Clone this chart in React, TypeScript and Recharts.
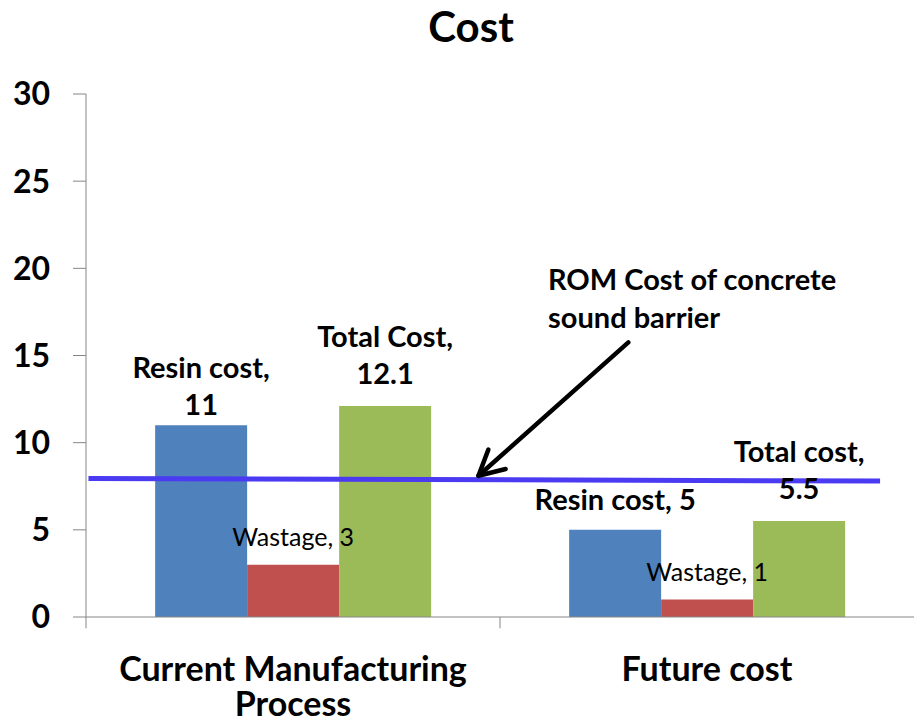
import React from 'react'
import {
  ComposedChart,
  Bar,
  XAxis,
  YAxis,
  ReferenceLine,
  ReferenceDot,
  LabelList,
} from 'recharts'

const categories = ['Current Manufacturing Process', 'Future cost']
const resinCost = [11, 5]
const wastage = [3, 1]
const totalCost = [12.1, 5.5]
const resinNames = ['Resin cost', 'Resin cost']
const wastageNames = ['Wastage', 'Wastage']
const totalNames = ['Total Cost', 'Total cost']
const yTicks = [0, 5, 10, 15, 20, 25, 30]

// ROM cost of a concrete sound barrier, drawn as a slightly tilted line
const romLine = [
  { x: 0.003, y: 7.95 },
  { x: 0.959, y: 7.8 },
]
const romArrow = [
  { x: 0.655, y: 15.75 },
  { x: 0.474, y: 8.1 },
]
const romText = ['ROM Cost of concrete', 'sound barrier']
const romTextAt = { x: 0.558, y: 18.75 }
// category boundaries on the 0..1 helper axis (excel puts x ticks between groups)
const boundaries = [0, 0.5]

const FONT = 'Lato, "Liberation Sans", sans-serif'
const AXIS_GREY = '#868686'

const data = categories.map((name, i) => ({
  name,
  resin: resinCost[i],
  wastage: wastage[i],
  total: totalCost[i],
}))

const makeLabel = (names: string[], bold: boolean, lift: number[]) => (p: any) => {
  const { x, y, width, value, index } = p
  const cx = Number(x) + Number(width) / 2
  const base = Number(y) - lift[index]
  const full = `${names[index]}, ${value}`
  const common = {
    textAnchor: 'middle' as const,
    fontFamily: FONT,
    fontWeight: bold ? 700 : 400,
    fontSize: bold ? 29 : 25,
    fill: '#000',
  }
  if (bold && full.length > 13) {
    return (
      <text {...common}>
        <tspan x={cx} y={base - 37}>{`${names[index]},`}</tspan>
        <tspan x={cx} y={base}>{String(value)}</tspan>
      </text>
    )
  }
  return (
    <text x={cx} y={base} {...common}>
      {full}
    </text>
  )
}

function ArrowShape(p: any) {
  const { x1, y1, x2, y2 } = p
  const ang = Math.atan2(y2 - y1, x2 - x1)
  const len = 28
  const spread = Math.PI / 6.5
  const ax = x2 - len * Math.cos(ang - spread)
  const ay = y2 - len * Math.sin(ang - spread)
  const bx = x2 - len * Math.cos(ang + spread)
  const by = y2 - len * Math.sin(ang + spread)
  return (
    <g stroke="#000" strokeWidth={4.5} strokeLinecap="round" fill="none">
      <line x1={x1} y1={y1} x2={x2} y2={y2} />
      <polyline points={`${ax},${ay} ${x2},${y2} ${bx},${by}`} strokeLinejoin="round" />
    </g>
  )
}

function RomText(p: any) {
  const { cx, cy } = p
  return (
    <text fontFamily={FONT} fontWeight={700} fontSize={29} fill="#000">
      <tspan x={cx} y={cy}>{romText[0]}</tspan>
      <tspan x={cx} y={cy + 38}>{romText[1]}</tspan>
    </text>
  )
}

function wrapWords(s: string, maxChars: number) {
  const lines: string[] = []
  let cur = ''
  for (const w of s.split(' ')) {
    const next = cur ? `${cur} ${w}` : w
    if (next.length > maxChars && cur) {
      lines.push(cur)
      cur = w
    } else {
      cur = next
    }
  }
  if (cur) lines.push(cur)
  return lines
}

function CategoryTick(p: any) {
  const { x, y, payload } = p
  const lines = wrapWords(String(payload.value), 22)
  return (
    <text textAnchor="middle" fontFamily={FONT} fontWeight={700} fontSize={34} fill="#000">
      {lines.map((l, i) => (
        <tspan key={i} x={x} y={y + 64 + i * 35}>
          {l}
        </tspan>
      ))}
    </text>
  )
}

export default function App() {
  return (
    <div style={{ position: 'absolute', left: 0, top: 0, width: 914, height: 725, background: '#fff' }}>
      <div
        style={{
          position: 'absolute',
          top: 5,
          left: 0,
          width: 942,
          textAlign: 'center',
          fontFamily: FONT,
          fontWeight: 700,
          fontSize: 42,
          lineHeight: 1,
        }}
      >
        Cost
      </div>
      <ComposedChart
        width={914}
        height={725}
        data={data}
        margin={{ top: 94, right: 0, bottom: 0, left: 0 }}
        barCategoryGap="16.7%"
        barGap={0}
      >
        <XAxis
          dataKey="name"
          height={108}
          axisLine={{ stroke: AXIS_GREY }}
          tickLine={false}
          tickSize={0}
          tickMargin={0}
          interval={0}
          tick={<CategoryTick />}
        />
        <XAxis xAxisId="n" type="number" domain={[0, 1]} hide allowDataOverflow />
        <YAxis
          domain={[0, 30]}
          ticks={yTicks}
          interval={0}
          width={86}
          tickSize={13}
          tickMargin={23}
          axisLine={{ stroke: AXIS_GREY }}
          tickLine={{ stroke: AXIS_GREY }}
          tick={{ fontSize: 32, fontWeight: 700, fill: '#000', fontFamily: FONT }}
        />
        <Bar dataKey="resin" fill="#4F81BD" isAnimationActive={false}>
          <LabelList dataKey="resin" content={makeLabel(resinNames, true, [10, 20])} />
        </Bar>
        <Bar dataKey="wastage" fill="#C0504D" isAnimationActive={false}>
          <LabelList dataKey="wastage" content={makeLabel(wastageNames, false, [19, 19])} />
        </Bar>
        <Bar dataKey="total" fill="#9BBB59" isAnimationActive={false}>
          <LabelList dataKey="total" content={makeLabel(totalNames, true, [22, 22])} />
        </Bar>
        {boundaries.map((b) => (
          <ReferenceLine
            key={b}
            xAxisId="n"
            segment={[
              { x: b, y: 0 },
              { x: b, y: -0.65 },
            ]}
            stroke={AXIS_GREY}
            ifOverflow="visible"
          />
        ))}
        <ReferenceLine
          xAxisId="n"
          segment={romLine}
          stroke="#4A3AF2"
          strokeWidth={5}
          ifOverflow="visible"
        />
        <ReferenceLine
          xAxisId="n"
          segment={romArrow}
          ifOverflow="visible"
          shape={(p: any) => <ArrowShape {...p} />}
        />
        <ReferenceDot
          xAxisId="n"
          x={romTextAt.x}
          y={romTextAt.y}
          ifOverflow="visible"
          shape={(p: any) => <RomText {...p} />}
        />
      </ComposedChart>
    </div>
  )
}
